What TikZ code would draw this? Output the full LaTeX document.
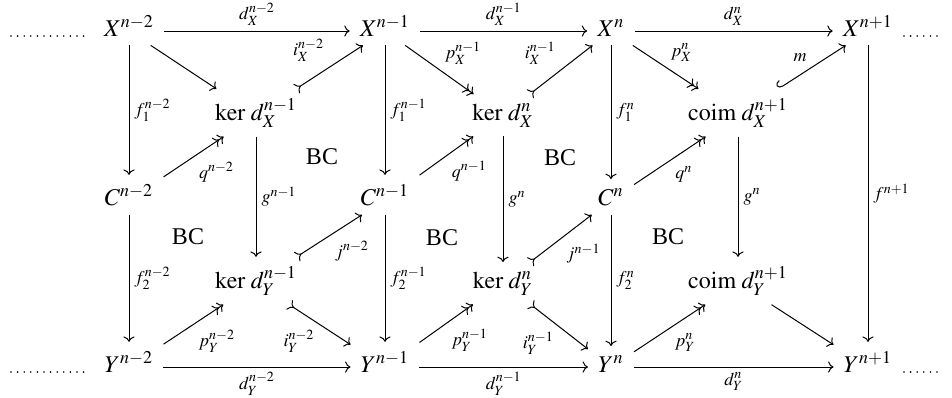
\documentclass[tikz,border=0pt]{standalone}
\usepackage{amsmath}
\usepackage{mathptmx}
\usepackage[no-math]{fontspec}
\setmainfont{Liberation Serif}
\usetikzlibrary{arrows.meta,cd}
\DeclareMathOperator{\coim}{coim}
\newcommand\fsz{\fontsize{12}{14}\selectfont}
\begin{document}
\begin{tikzpicture}[x=0.5pt,y=-0.5pt,
  >={Computer Modern Rightarrow[length=2.7pt,width=5.6pt]},
  obj/.style={shape=asymmetrical rectangle,inner xsep=5pt,inner ysep=4.5pt,font=\fsz},
  lab/.style={font=\fsz,inner sep=2.5pt},
  bc/.style={font=\fsz,inner sep=0pt},
  ar/.style={line width=0.5pt,->},
  epi/.style={line width=0.5pt,->>},
  mono/.style={line width=0.5pt,>->},
  hk/.style={line width=0.5pt,{Hooks[right,length=2.6pt,width=7pt]}->},
  dotsty/.style={line width=0.9pt,line cap=round,dash pattern=on 0pt off 3.3pt}]
\useasboundingbox (0,0) rectangle (952,397);
% objects
\node[obj] (X1) at (129,31) {$X^{n-2}$};
\node[obj] (X2) at (385,31) {$X^{n-1}$};
\node[obj] (X3) at (611,31) {$X^{n}$};
\node[obj] (X4) at (868,31) {$X^{n+1}$};
\node[obj] (K1) at (256,115) {$\ker\, d_X^{n-1}$};
\node[obj] (K2) at (503,115) {$\ker\, d_X^{n}$};
\node[obj] (M1) at (738,115) {$\coim\, d_X^{n+1}$};
\node[obj] (C1) at (129,200) {$C^{n-2}$};
\node[obj] (C2) at (385,200) {$C^{n-1}$};
\node[obj] (C3) at (611,200) {$C^{n}$};
\node[obj] (L1) at (256,283) {$\ker\, d_Y^{n-1}$};
\node[obj] (L2) at (503,283) {$\ker\, d_Y^{n}$};
\node[obj] (M2) at (738,283) {$\coim\, d_Y^{n+1}$};
\node[obj] (Y1) at (129,367) {$Y^{n-2}$};
\node[obj] (Y2) at (385,367) {$Y^{n-1}$};
\node[obj] (Y3) at (611,367) {$Y^{n}$};
\node[obj] (Y4) at (868,367) {$Y^{n+1}$};
% BC labels
\node[bc] (b1) at (322,157) {BC};
\node[bc] (b2) at (188,237) {BC};
\node[bc] (b3) at (442,238) {BC};
\node[bc] (b4) at (560,158) {BC};
\node[bc] (b5) at (668,237) {BC};
% dots
\coordinate (dA1) at (11,36); \coordinate (dA2) at (85,36);
\coordinate (dB1) at (904,36); \coordinate (dB2) at (943,36);
\coordinate (dC1) at (11,372); \coordinate (dC2) at (85,372);
\coordinate (dD1) at (904,372); \coordinate (dD2) at (943,372);
\draw[dotsty] (dA1) -- (dA2);
\draw[dotsty] (dB1) -- (dB2);
\draw[dotsty] (dC1) -- (dC2);
\draw[dotsty] (dD1) -- (dD2);
% horizontal arrows
\draw[ar] (X1) -- node[lab,above] (t1) {$\scriptstyle d_X^{n-2}$} (X2);
\draw[ar] (X2) -- node[lab,above] (t2) {$\scriptstyle d_X^{n-1}$} (X3);
\draw[ar] (X3) -- node[lab,above] (t3) {$\scriptstyle d_X^{n}$} (X4);
\draw[ar] (Y1) -- node[lab,below] (t4) {$\scriptstyle d_Y^{n-2}$} (Y2);
\draw[ar] (Y2) -- node[lab,below] (t5) {$\scriptstyle d_Y^{n-1}$} (Y3);
\draw[ar] (Y3) -- node[lab,below] (t6) {$\scriptstyle d_Y^{n}$} (Y4);
% vertical arrows
\draw[ar] (X1) -- node[lab,right] (v1) {$\scriptstyle f_1^{n-2}$} (C1);
\draw[ar] (C1) -- node[lab,right] (v2) {$\scriptstyle f_2^{n-2}$} (Y1);
\draw[ar] (X2) -- node[lab,right] (v3) {$\scriptstyle f_1^{n-1}$} (C2);
\draw[ar] (C2) -- node[lab,right] (v4) {$\scriptstyle f_2^{n-1}$} (Y2);
\draw[ar] (X3) -- node[lab,right] (v5) {$\scriptstyle f_1^{n}$} (C3);
\draw[ar] (C3) -- node[lab,right] (v6) {$\scriptstyle f_2^{n}$} (Y3);
\draw[ar] (X4) -- node[lab,right] (v7) {$\scriptstyle f^{n+1}$} (Y4);
\draw[ar] (K1) -- node[lab,right] (g1) {$\scriptstyle g^{n-1}$} (L1);
\draw[ar] (K2) -- node[lab,right] (g2) {$\scriptstyle g^{n}$} (L2);
\draw[ar] (M1) -- node[lab,right] (g3) {$\scriptstyle g^{n}$} (M2);
% column 1-2 diagonals
\draw[ar] (X1) -- (K1);
\draw[mono] (K1) -- node[lab,above left] (a1) {$\scriptstyle i_X^{n-2}$} (X2);
\draw[epi] (C1) -- node[lab,below right] (a2) {$\scriptstyle q^{n-2}$} (K1);
\draw[mono] (L1) -- node[lab,below right] (a3) {$\scriptstyle j^{n-2}$} (C2);
\draw[epi] (Y1) -- node[lab,below right] (a4) {$\scriptstyle p_Y^{n-2}$} (L1);
\draw[mono] (L1) -- node[lab,below left] (a5) {$\scriptstyle i_Y^{n-2}$} (Y2);
% column 2-3 diagonals
\draw[epi] (X2) -- node[lab,above right] (a6) {$\scriptstyle p_X^{n-1}$} (K2);
\draw[mono] (K2) -- node[lab,above left] (a7) {$\scriptstyle i_X^{n-1}$} (X3);
\draw[epi] (C2) -- node[lab,below right] (a8) {$\scriptstyle q^{n-1}$} (K2);
\draw[mono] (L2) -- node[lab,below right] (a9) {$\scriptstyle j^{n-1}$} (C3);
\draw[epi] (Y2) -- node[lab,below right] (a10) {$\scriptstyle p_Y^{n-1}$} (L2);
\draw[mono] (L2) -- node[lab,below left] (a11) {$\scriptstyle i_Y^{n-1}$} (Y3);
% column 3-4 diagonals
\draw[epi] (X3) -- node[lab,above right] (a12) {$\scriptstyle p_X^{n}$} (M1);
\draw[hk] (M1) -- node[lab,above left] (a13) {$\scriptstyle m$} (X4);
\draw[epi] (C3) -- node[lab,below right] (a14) {$\scriptstyle q^{n}$} (M1);
\draw[epi] (Y3) -- node[lab,below right] (a15) {$\scriptstyle p_Y^{n}$} (M2);
\draw[ar] (M2) -- (Y4);
\end{tikzpicture}
\end{document}
